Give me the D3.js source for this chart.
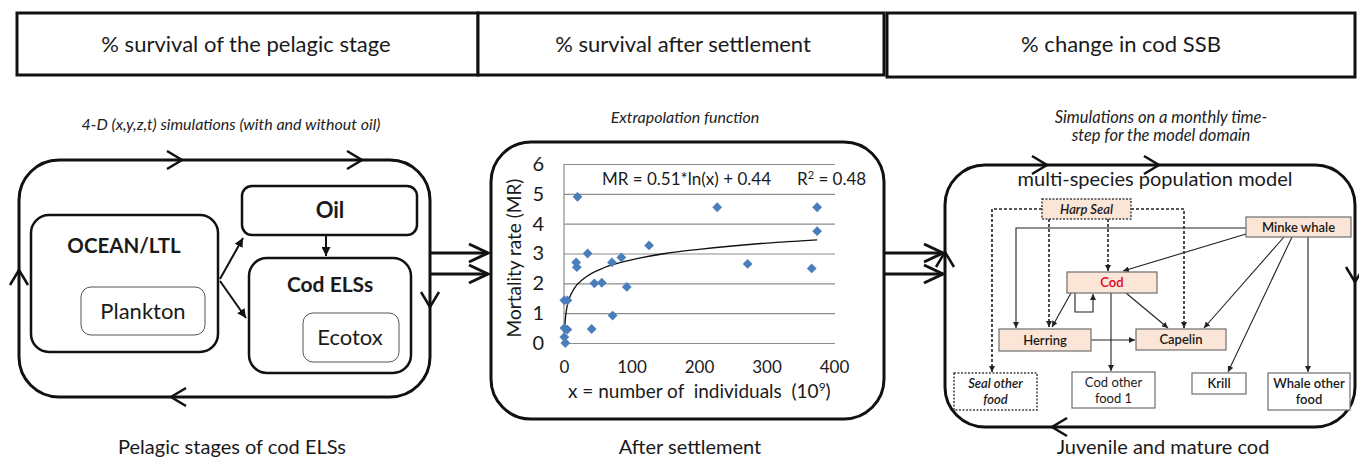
<!DOCTYPE html>
<html>
<head>
<meta charset="utf-8">
<script src="https://cdn.jsdelivr.net/npm/d3@7"></script>
<style>
  body { margin: 0; background: #fff; }
  svg { display: block; font-family: Lato, "Open Sans", sans-serif; }
</style>
</head>
<body>
<div id="chart"></div>
<script>
// Data (scatter)
const individuals = [20, 227, 126, 35, 18, 19, 71, 85, 45, 56, 93, 0.5, 5, 72, 41, 0.5, 5, 0.5, 2, 375, 375, 272, 367];
const mortality = [4.9, 4.55, 3.27, 3.0, 2.7, 2.54, 2.7, 2.87, 2.0, 2.02, 1.88, 1.43, 1.43, 0.92, 0.47, 0.5, 0.45, 0.2, 0.0, 4.55, 3.75, 2.65, 2.5];

// fitted curve as drawn (MR = 0.51*ln(x) + 0.44)
const trendX = [0.45, 1, 2, 4, 8, 15, 30, 60, 100, 150, 200, 300, 375];
const trendY = [0.03, 0.44, 0.79, 1.15, 1.5, 1.82, 2.17, 2.53, 2.79, 3.0, 3.14, 3.35, 3.46];

const xTicks = [0, 100, 200, 300, 400];
const yTicks = [0, 1, 2, 3, 4, 5, 6];

const headers = ["% survival of the pelagic stage", "% survival after settlement", "% change in cod SSB"];
const subtitles = ["4-D (x,y,z,t) simulations (with and without oil)", "Extrapolation function"];
const rightSubtitle = ["Simulations on a monthly time-", "step for the model domain"];
const footers = ["Pelagic stages of cod ELSs", "After settlement", "Juvenile and mature cod"];

const width = 1359, height = 458;
const ink = "#111";
const peach = "#fbe5d6";

const svg = d3.select("#chart").append("svg")
    .attr("width", width)
    .attr("height", height);

const defs = svg.append("defs");
defs.append("marker")
    .attr("id", "tip")
    .attr("viewBox", "0 0 8 8")
    .attr("refX", 8).attr("refY", 4)
    .attr("markerWidth", 6).attr("markerHeight", 6)
    .attr("markerUnits", "userSpaceOnUse")
    .attr("orient", "auto")
    .append("path").attr("d", "M0,0 L8,4 L0,8 z").attr("fill", "#222");
defs.append("marker")
    .attr("id", "tipBig")
    .attr("viewBox", "0 0 8 8")
    .attr("refX", 8).attr("refY", 4)
    .attr("markerWidth", 9).attr("markerHeight", 9)
    .attr("markerUnits", "userSpaceOnUse")
    .attr("orient", "auto")
    .append("path").attr("d", "M0,0 L8,4 L0,8 z").attr("fill", ink);

// open chevron arrow head, tip at (x,y), angle in degrees (0 = pointing right)
function chevron(g, x, y, angle, len, half, sw) {
    g.append("path")
        .attr("d", `M${-len},${-half} L0,0 L${-len},${half}`)
        .attr("transform", `translate(${x},${y}) rotate(${angle})`)
        .attr("fill", "none")
        .attr("stroke", ink)
        .attr("stroke-width", sw)
        .attr("stroke-linejoin", "miter");
}

// ---- header strip
const headerBoxes = [[17, 13, 461, 62], [478, 13, 406, 62], [887, 13, 468, 64]];
const headerX = [246, 683, 1121];
headerBoxes.forEach((b, i) => {
    svg.append("rect")
        .attr("x", b[0]).attr("y", b[1]).attr("width", b[2]).attr("height", b[3])
        .attr("fill", "#fff").attr("stroke", ink).attr("stroke-width", 3);
    svg.append("text")
        .attr("x", headerX[i]).attr("y", 52)
        .attr("text-anchor", "middle")
        .style("font-size", "22px").style("fill", "#1a1a1a")
        .text(headers[i]);
});

// ---- subtitles
const subX = [231, 685];
const subY = [130, 123];
subtitles.forEach((s, i) => {
    svg.append("text")
        .attr("x", subX[i]).attr("y", subY[i])
        .attr("text-anchor", "middle")
        .style("font-size", "16px").style("font-style", "italic").style("fill", "#222")
        .text(s);
});
rightSubtitle.forEach((s, i) => {
    svg.append("text")
        .attr("x", 1161).attr("y", 123 + i * 18)
        .attr("text-anchor", "middle")
        .style("font-size", "16.5px").style("font-style", "italic").style("fill", "#222")
        .text(s);
});

// ---- footers
const footX = [232, 690, 1163];
footers.forEach((s, i) => {
    svg.append("text")
        .attr("x", footX[i]).attr("y", 454)
        .attr("text-anchor", "middle")
        .style("font-size", "20px").style("fill", "#1a1a1a")
        .text(s);
});

// ---- left panel
const left = svg.append("g");
left.append("rect")
    .attr("x", 19).attr("y", 160).attr("width", 411).attr("height", 237).attr("rx", 40)
    .attr("fill", "none").attr("stroke", ink).attr("stroke-width", 3);
chevron(left, 182, 160, 0, 15, 9, 2.5);
chevron(left, 362, 160, 0, 15, 9, 2.5);
chevron(left, 171, 397, 180, 15, 9, 2.5);
chevron(left, 19, 270, -90, 15, 9, 2.5);
chevron(left, 430, 307, 90, 15, 9, 2.5);

function box(g, x, y, w, h, rx, sw, color) {
    return g.append("rect")
        .attr("x", x).attr("y", y).attr("width", w).attr("height", h).attr("rx", rx)
        .attr("fill", "#fff").attr("stroke", color || ink).attr("stroke-width", sw);
}
function label(g, x, y, txt, size, weight) {
    return g.append("text")
        .attr("x", x).attr("y", y).attr("text-anchor", "middle")
        .style("font-size", size + "px").style("font-weight", weight || "normal")
        .style("fill", "#1a1a1a").text(txt);
}

box(left, 31, 215, 187, 137, 18, 2.5);
label(left, 124, 253, "OCEAN/LTL", 20.5, "bold");
box(left, 81, 287, 124, 48, 10, 1, "#555");
label(left, 143, 319, "Plankton", 22);

box(left, 242, 186, 175, 49, 10, 2.5);
label(left, 330, 218, "Oil", 22, "bold");
box(left, 249, 258, 162, 115, 18, 2.5);
label(left, 330, 292, "Cod  ELSs", 21, "bold");
box(left, 303, 313, 96, 49, 10, 1, "#555");
label(left, 350, 345, "Ecotox", 22);

left.append("line").attr("x1", 220).attr("y1", 279).attr("x2", 243).attr("y2", 238)
    .attr("stroke", ink).attr("stroke-width", 2).attr("marker-end", "url(#tipBig)");
left.append("line").attr("x1", 220).attr("y1", 281).attr("x2", 246).attr("y2", 318)
    .attr("stroke", ink).attr("stroke-width", 2).attr("marker-end", "url(#tipBig)");
left.append("line").attr("x1", 326).attr("y1", 236).attr("x2", 326).attr("y2", 256)
    .attr("stroke", ink).attr("stroke-width", 2).attr("marker-end", "url(#tipBig)");

// ---- double arrows between panels
[[430, 488], [884, 943]].forEach(seg => {
    [253, 274].forEach(y => {
        svg.append("line").attr("x1", seg[0]).attr("y1", y).attr("x2", seg[1]).attr("y2", y)
            .attr("stroke", ink).attr("stroke-width", 3);
        chevron(svg, seg[1], y, 0, 19, 9, 3);
    });
});

// ---- middle panel (scatter)
const mid = svg.append("g");
mid.append("rect")
    .attr("x", 491).attr("y", 142).attr("width", 393).attr("height", 277).attr("rx", 40)
    .attr("fill", "#fff").attr("stroke", ink).attr("stroke-width", 3);

const x = d3.scaleLinear().domain([0, 400]).range([564, 834]);
const y = d3.scaleLinear().domain([0, 6]).range([343, 164]);

const yAxis = mid.append("g")
    .attr("transform", "translate(564,0)")
    .call(d3.axisLeft(y).tickValues(yTicks).tickSize(-271).tickPadding(20).tickFormat(d3.format("d")));
yAxis.select(".domain").remove();
yAxis.selectAll(".tick line").attr("stroke", "#8c8c8c").attr("stroke-width", 1.2);
yAxis.selectAll(".tick text").style("font-size", "20px").style("font-family", "Lato, sans-serif").attr("fill", "#1a1a1a");

const xAxis = mid.append("g")
    .attr("transform", "translate(0,343)")
    .call(d3.axisBottom(x).tickValues(xTicks).tickSize(0).tickPadding(18).tickFormat(d3.format("d")));
xAxis.select(".domain").remove();
xAxis.selectAll(".tick text").style("font-size", "17px").style("font-family", "Lato, sans-serif").attr("fill", "#1a1a1a");

mid.append("line").attr("x1", 564).attr("x2", 564).attr("y1", y(6)).attr("y2", y(0))
    .attr("stroke", "#8c8c8c").attr("stroke-width", 1.2);

const trend = trendX.map((d, i) => [d, trendY[i]]);
mid.append("path")
    .datum(trend)
    .attr("d", d3.line().x(d => x(d[0])).y(d => y(d[1])).curve(d3.curveMonotoneX))
    .attr("fill", "none").attr("stroke", "#111").attr("stroke-width", 1.3);

const pts = individuals.map((d, i) => ({ n: d, mr: mortality[i] }));
mid.selectAll(".pt")
    .data(pts)
    .enter().append("path")
    .attr("class", "pt")
    .attr("d", d3.symbol(d3.symbolSquare, 48)())
    .attr("transform", d => `translate(${x(d.n)},${y(d.mr)}) rotate(45)`)
    .attr("fill", "#4a7ebb");

mid.append("text").attr("x", 602).attr("y", 185)
    .style("font-size", "17px").style("fill", "#1a1a1a")
    .text("MR = 0.51*ln(x) + 0.44");
const r2 = mid.append("text").attr("x", 797).attr("y", 185)
    .style("font-size", "17px").style("fill", "#1a1a1a");
r2.append("tspan").text("R");
r2.append("tspan").attr("dy", -6).style("font-size", "11px").text("2");
r2.append("tspan").attr("dy", 6).text(" = 0.48");

mid.append("text")
    .attr("transform", "translate(521,258) rotate(-90)")
    .attr("text-anchor", "middle")
    .style("font-size", "19px").style("fill", "#1a1a1a")
    .text("Mortality rate (MR)");

const xl = mid.append("text").attr("x", 568).attr("y", 398)
    .style("font-size", "19px").style("fill", "#1a1a1a").attr("xml:space", "preserve");
xl.append("tspan").text("x = number of  individuals  (10");
xl.append("tspan").attr("dy", -7).style("font-size", "12px").text("9");
xl.append("tspan").attr("dy", 7).text(")");

// ---- right panel (food web)
const right = svg.append("g");
right.append("rect")
    .attr("x", 945).attr("y", 165).attr("width", 410).attr("height", 262).attr("rx", 40)
    .attr("fill", "none").attr("stroke", ink).attr("stroke-width", 3);
chevron(right, 1047, 165, 0, 15, 9, 2.5);
chevron(right, 1159, 165, 0, 15, 9, 2.5);
chevron(right, 1052, 427, 180, 15, 9, 2.5);
chevron(right, 945, 252, -90, 15, 9, 2.5);
chevron(right, 1355, 282, 90, 15, 9, 2.5);

right.append("text").attr("x", 1155).attr("y", 186).attr("text-anchor", "middle")
    .style("font-size", "20px").style("fill", "#1a1a1a")
    .text("multi-species population model");

const webLines = [
    { d: "M1246,228 H1016 V328", dash: null },
    { d: "M1246,234 L1123,271", dash: null },
    { d: "M1284,237 L1204,328", dash: null },
    { d: "M1292,237 L1228,372", dash: null },
    { d: "M1308,237 V372", dash: null },
    { d: "M1071,293 L1052,327", dash: null },
    { d: "M1126,293 L1168,328", dash: null },
    { d: "M1075,293 V312 H1093 V294", dash: null },
    { d: "M1111,293 V371", dash: null },
    { d: "M1091,340 H1135", dash: null },
    { d: "M1042,209 H992 V372", dash: "3,2" },
    { d: "M1131,209 H1184 V328", dash: "3,2" },
    { d: "M1049,219 V327", dash: "3,2" },
    { d: "M1108,219 V271", dash: "3,2" }
];
right.selectAll(".web")
    .data(webLines)
    .enter().append("path")
    .attr("class", "web")
    .attr("d", d => d.d)
    .attr("fill", "none")
    .attr("stroke", "#222")
    .attr("stroke-width", d => d.dash ? 1.6 : 1.1)
    .attr("stroke-dasharray", d => d.dash)
    .attr("marker-end", "url(#tip)");

const nodes = [
    { x: 1042, y: 199, w: 89, h: 20, fill: peach, dash: "2,1.5", lines: ["Harp Seal"], italic: true, bold: true },
    { x: 1246, y: 217, w: 105, h: 20, fill: peach, lines: ["Minke whale"], bold: true },
    { x: 1067, y: 272, w: 90, h: 21, fill: peach, lines: ["Cod"], bold: true, color: "#e0001b" },
    { x: 999, y: 329, w: 92, h: 22, fill: peach, lines: ["Herring"], bold: true },
    { x: 1136, y: 329, w: 90, h: 21, fill: peach, lines: ["Capelin"], bold: true },
    { x: 954, y: 373, w: 83, h: 37, fill: "#fff", dash: "2,1.5", lines: ["Seal other", "food"], italic: true, bold: true },
    { x: 1072, y: 372, w: 83, h: 36, fill: "#fff", lines: ["Cod other", "food 1"] },
    { x: 1192, y: 373, w: 54, h: 21, fill: "#fff", lines: ["Krill"], bold: true },
    { x: 1268, y: 373, w: 82, h: 37, fill: "#fff", lines: ["Whale other", "food"], bold: true }
];
nodes.forEach(n => {
    right.append("rect")
        .attr("x", n.x).attr("y", n.y).attr("width", n.w).attr("height", n.h)
        .attr("fill", n.fill)
        .attr("stroke", n.dash ? "#444" : "#6e6e6e")
        .attr("stroke-width", n.dash ? 1.5 : 1.2)
        .attr("stroke-dasharray", n.dash || null);
    const t = right.append("text")
        .attr("text-anchor", "middle")
        .style("font-size", "13px")
        .style("font-weight", n.bold ? 600 : "normal")
        .style("font-style", n.italic ? "italic" : "normal")
        .style("fill", n.color || "#1a1a1a");
    const cy = n.y + n.h / 2 - (n.lines.length - 1) * 8 + 4.5;
    n.lines.forEach((s, i) => {
        t.append("tspan").attr("x", n.x + n.w / 2).attr("y", cy + i * 16).text(s);
    });
});
</script>
</body>
</html>
